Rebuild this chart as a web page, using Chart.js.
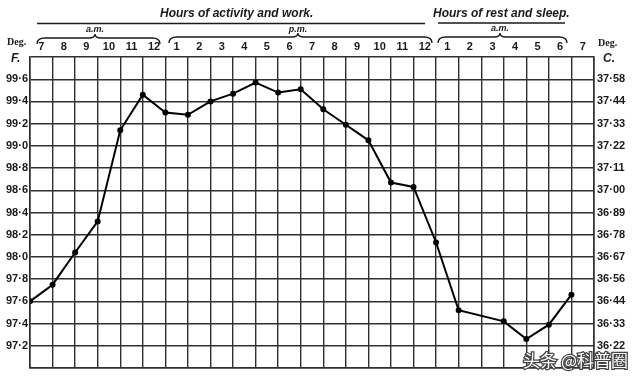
<!DOCTYPE html>
<html>
<head>
<meta charset="utf-8">
<script src="https://cdn.jsdelivr.net/npm/chart.js@4/dist/chart.umd.min.js"></script>
<style>
html,body{margin:0;padding:0;background:#fff;}
#wrap{width:640px;height:380px;}
</style>
</head>
<body>
<div id="wrap"><canvas id="c" width="640" height="380"></canvas></div>
<script>
// Hour labels along the top (cell centres)
const hourLabels = ['7','8','9','10','11','12','1','2','3','4','5','6','7','8','9','10','11','12','1','2','3','4','5','6','7'];
// Temperature readings (deg F) at each hour grid line, 7 a.m. to 7 a.m.
const tempF = [97.60, 97.75, 98.04, 98.32, 99.14, 99.46, 99.30, 99.28, 99.40, 99.47, 99.57, 99.48, 99.51,
               99.33, 99.19, 99.05, 98.67, 98.63, 98.13, 97.52, null, 97.42, 97.26, 97.39, 97.66];
// Tick values and their labels
const tickValues = [97.2, 97.4, 97.6, 97.8, 98.0, 98.2, 98.4, 98.6, 98.8, 99.0, 99.2, 99.4, 99.6];
const tickLabelsF = ['97·2','97·4','97·6','97·8','98·0','98·2','98·4','98·6','98·8','99·0','99·2','99·4','99·6'];
const tickLabelsC = ['36·22','36·33','36·44','36·56','36·67','36·78','36·89','37·00','37·11','37·22','37·33','37·44','37·58'];
const titleWork = 'Hours of activity and work.';
const titleRest = 'Hours of rest and sleep.';
const amLabel = 'a.m.';
const pmLabel = 'p.m.';
const watermark = '头条 @科普圈';

function lookup(arr, v) {
  const k = Math.round(v * 10);
  const i = tickValues.findIndex(t => Math.round(t * 10) === k);
  return i >= 0 ? arr[i] : '';
}

const ink = '#1a1a1a';
const gridCol = '#303030';

function brace(ctx, x1, x2, xc, ym, d, up) {
  ctx.beginPath();
  ctx.moveTo(x1, ym + d);
  ctx.quadraticCurveTo(x1, ym, x1 + 8, ym);
  ctx.lineTo(xc - 6, ym);
  ctx.quadraticCurveTo(xc, ym, xc, ym - up);
  ctx.quadraticCurveTo(xc, ym, xc + 6, ym);
  ctx.lineTo(x2 - 8, ym);
  ctx.quadraticCurveTo(x2, ym, x2, ym + d);
  ctx.stroke();
}

const decor = {
  id: 'decor',
  afterDraw(chart) {
    const ctx = chart.ctx;
    ctx.save();
    ctx.fillStyle = ink;
    ctx.strokeStyle = ink;
    // titles
    ctx.font = 'italic bold 12px "Liberation Sans", Arial, sans-serif';
    ctx.textBaseline = 'alphabetic';
    ctx.textAlign = 'left';
    ctx.fillText(titleWork, 160, 17);
    ctx.fillText(titleRest, 433, 17);
    // underlines
    ctx.lineWidth = 1.6;
    ctx.beginPath(); ctx.moveTo(37, 23.5); ctx.lineTo(425, 23.5); ctx.stroke();
    ctx.beginPath(); ctx.moveTo(438, 23); ctx.lineTo(565, 23); ctx.stroke();
    // a.m. / p.m. labels
    ctx.font = 'italic bold 9px "Liberation Sans", Arial, sans-serif';
    ctx.textAlign = 'center';
    ctx.fillText(amLabel, 95, 32);
    ctx.fillText(pmLabel, 298, 32);
    ctx.fillText(amLabel, 500, 31);
    // braces
    ctx.lineWidth = 1.4;
    brace(ctx, 37, 160, 95, 38, 6, 4);
    brace(ctx, 169, 432, 298, 37, 6, 4);
    brace(ctx, 438, 567, 500, 37, 6, 4);
    // Deg. F. / Deg. C.
    ctx.font = 'bold 10px "Liberation Serif", serif';
    ctx.textAlign = 'left';
    ctx.fillText('Deg.', 7, 45);
    ctx.fillText('Deg.', 598, 46);
    ctx.font = 'italic bold 12px "Liberation Sans", Arial, sans-serif';
    ctx.fillText('F.', 11, 62);
    ctx.fillText('C.', 603, 62);
    // watermark
    ctx.font = '17px "Noto Sans CJK SC", sans-serif';
    ctx.textAlign = 'right';
    ctx.textBaseline = 'alphabetic';
    ctx.lineWidth = 2.5;
    ctx.strokeStyle = '#444';
    ctx.strokeText(watermark, 628, 367);
    ctx.fillStyle = '#fff';
    ctx.fillText(watermark, 628, 367);
    ctx.restore();
  }
};

const tickFont = { family: '"Liberation Sans", Arial, sans-serif', size: 11, weight: 'bold' };

new Chart(document.getElementById('c'), {
  type: 'line',
  data: {
    datasets: [{
      data: tempF.map((v, i) => ({ x: i, y: v })),
      borderColor: '#000',
      backgroundColor: '#000',
      borderWidth: 2,
      pointRadius: 2,
      pointHoverRadius: 2,
      tension: 0,
      spanGaps: true,
      xAxisID: 'x',
      yAxisID: 'y'
    }]
  },
  options: {
    responsive: false,
    animation: false,
    layout: { padding: 0 },
    plugins: { legend: { display: false }, tooltip: { enabled: false } },
    scales: {
      x: {
        type: 'linear', position: 'bottom', min: 0, max: 25,
        ticks: { display: false, stepSize: 1 },
        grid: { color: gridCol, lineWidth: 1.4, drawTicks: false },
        border: { color: gridCol, width: 1.6 },
        afterFit(s) { s.height = 12; }
      },
      xTop: {
        type: 'category', position: 'top', labels: hourLabels, offset: true,
        grid: { display: false, drawTicks: false },
        border: { display: false },
        ticks: { color: ink, font: tickFont, padding: 3, maxRotation: 0, autoSkip: false },
        afterFit(s) { s.height = 57; }
      },
      y: {
        type: 'linear', position: 'left', min: 97.0, max: 99.8,
        ticks: { stepSize: 0.2, color: ink, font: tickFont, padding: 2,
          callback: v => lookup(tickLabelsF, v) },
        grid: { color: gridCol, lineWidth: 1.4, drawTicks: false },
        border: { color: gridCol, width: 1.6 },
        afterFit(s) { s.width = 30; }
      },
      y2: {
        type: 'linear', position: 'right', min: 97.0, max: 99.8,
        ticks: { stepSize: 0.2, color: ink, font: tickFont, padding: 3,
          callback: v => lookup(tickLabelsC, v) },
        grid: { display: false, drawTicks: false },
        border: { color: gridCol, width: 1.6 },
        afterFit(s) { s.width = 46; }
      }
    }
  },
  plugins: [decor]
});
</script>
</body>
</html>
